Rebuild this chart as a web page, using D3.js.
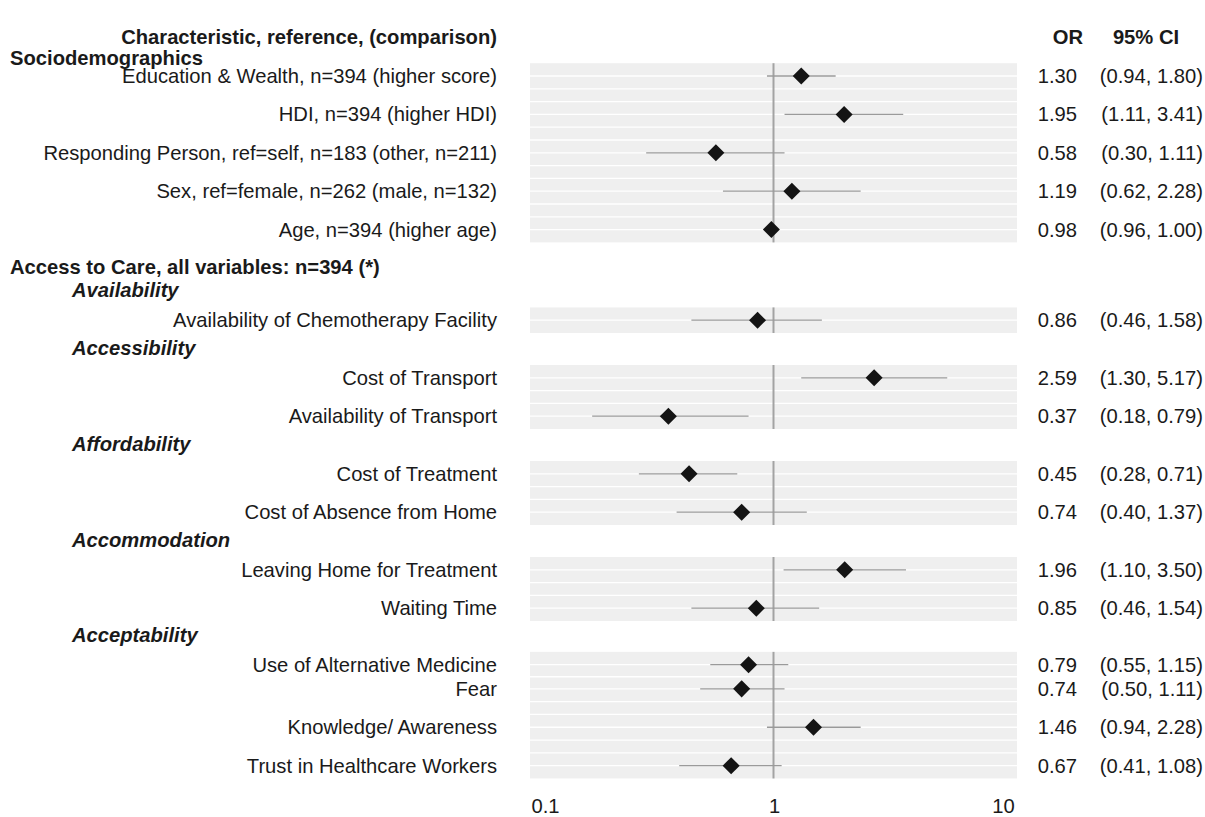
<!DOCTYPE html>
<html>
<head>
<meta charset="utf-8">
<script src="https://cdn.jsdelivr.net/npm/d3@7"></script>
<style>
  body { margin: 0; background: #fff; }
  text { font-family: "Liberation Sans", Arial, Helvetica, sans-serif; fill: #1a1a1a; }
</style>
</head>
<body>
<svg id="chart" width="1205" height="817"></svg>
<script>
// ---- data ----
const labels = [
  'Education & Wealth, n=394 (higher score)',
  'HDI, n=394 (higher HDI)',
  'Responding Person, ref=self, n=183 (other, n=211)',
  'Sex, ref=female, n=262 (male, n=132)',
  'Age, n=394 (higher age)',
  'Availability of Chemotherapy Facility',
  'Cost of Transport',
  'Availability of Transport',
  'Cost of Treatment',
  'Cost of Absence from Home',
  'Leaving Home for Treatment',
  'Waiting Time',
  'Use of Alternative Medicine',
  'Fear',
  'Knowledge/ Awareness',
  'Trust in Healthcare Workers'
];
const orValues = [1.30, 1.95, 0.58, 1.19, 0.98, 0.86, 2.59, 0.37, 0.45, 0.74, 1.96, 0.85, 0.79, 0.74, 1.46, 0.67];
const ciLow    = [0.94, 1.11, 0.30, 0.62, 0.96, 0.46, 1.30, 0.18, 0.28, 0.40, 1.10, 0.46, 0.55, 0.50, 0.94, 0.41];
const ciHigh   = [1.80, 3.41, 1.11, 2.28, 1.00, 1.58, 5.17, 0.79, 0.71, 1.37, 3.50, 1.54, 1.15, 1.11, 2.28, 1.08];
const panelOf  = [0, 0, 0, 0, 0, 1, 2, 2, 3, 3, 4, 4, 5, 5, 5, 5];
const sections = ['Sociodemographics', 'Access to Care, all variables: n=394 (*)'];
const subheads = ['Availability', 'Accessibility', 'Affordability', 'Accommodation', 'Acceptability'];
const xTicks = [0.1, 1, 10];

// ---- layout (row units) ----
const rowPos = [0, 1, 2, 3, 4, 6.36, 7.86, 8.86, 10.36, 11.36, 12.86, 13.86, 15.33, 15.96, 16.96, 17.96];
const sectionPos = [-0.48, 4.97];
const subheadPos = [5.57, 7.07, 9.57, 12.07, 14.56];
const headerPos = -1.03;
const axisPos = 19.0;

const svg = d3.select('#chart');
const fs = 20.2;

const x = d3.scaleLog().domain([0.1, 10]).range([530, 1017]);
const y = d3.scaleLinear().domain([0, 1]).range([76, 114.4]);

const rows = labels.map((l, i) => ({
  label: l, or: orValues[i], lo: ciLow[i], hi: ciHigh[i], panel: panelOf[i], pos: rowPos[i]
}));

// panels
const panels = d3.groups(rows, d => d.panel).map(([p, rs]) => {
  const ps = rs.map(r => r.pos);
  return { p, ps, top: d3.min(ps) - 1 / 3, bottom: d3.max(ps) + 1 / 3 };
});

const gPanel = svg.append('g');
panels.forEach(pn => {
  gPanel.append('rect')
    .attr('x', x(0.1)).attr('width', x(10) - x(0.1))
    .attr('y', y(pn.top)).attr('height', y(pn.bottom) - y(pn.top))
    .attr('fill', '#efefef');
  // white gridlines every third of a row
  const grid = [];
  for (let k = 0; k < pn.ps.length; k++) {
    grid.push(pn.ps[k]);
    if (k < pn.ps.length - 1) {
      const a = pn.ps[k], b = pn.ps[k + 1];
      const n = Math.max(1, Math.round((b - a) * 3));
      for (let j = 1; j < n; j++) grid.push(a + j * (b - a) / n);
    }
  }
  gPanel.selectAll(null).data(grid).enter().append('line')
    .attr('x1', x(0.1)).attr('x2', x(10))
    .attr('y1', d => y(d)).attr('y2', d => y(d))
    .attr('stroke', '#fff').attr('stroke-width', 1.3);
  gPanel.append('line')
    .attr('x1', x(1)).attr('x2', x(1))
    .attr('y1', y(pn.top)).attr('y2', y(pn.bottom))
    .attr('stroke', '#a3a3a3').attr('stroke-width', 2);
});

// CI lines
svg.append('g').selectAll('line').data(rows).enter().append('line')
  .attr('x1', d => x(d.lo)).attr('x2', d => x(d.hi))
  .attr('y1', d => y(d.pos)).attr('y2', d => y(d.pos))
  .attr('stroke', '#9a9a9a').attr('stroke-width', 1.3);

// diamonds
svg.append('g').selectAll('path').data(rows).enter().append('path')
  .attr('d', d3.symbol(d3.symbolSquare, 145))
  .attr('transform', d => `translate(${x(d.or)},${y(d.pos)}) rotate(45)`)
  .attr('fill', '#141414');

// left labels
const gText = svg.append('g').style('font-size', fs + 'px');
gText.append('text').attr('x', 497).attr('y', y(headerPos)).attr('dy', '0.35em')
  .attr('text-anchor', 'end').attr('font-weight', 'bold')
  .text('Characteristic, reference, (comparison)');
gText.append('text').attr('x', 1068).attr('y', y(headerPos)).attr('dy', '0.35em')
  .attr('text-anchor', 'middle').attr('font-weight', 'bold').text('OR');
gText.append('text').attr('x', 1146).attr('y', y(headerPos)).attr('dy', '0.35em')
  .attr('text-anchor', 'middle').attr('font-weight', 'bold').text('95% CI');

gText.selectAll('.sec').data(sections).enter().append('text')
  .attr('x', 10).attr('y', (d, i) => y(sectionPos[i])).attr('dy', '0.35em')
  .attr('font-weight', 'bold').text(d => d);

gText.selectAll('.sub').data(subheads).enter().append('text')
  .attr('x', 72).attr('y', (d, i) => y(subheadPos[i])).attr('dy', '0.35em')
  .attr('font-weight', 'bold').attr('font-style', 'italic').text(d => d);

gText.selectAll('.lab').data(rows).enter().append('text')
  .attr('x', 497).attr('y', d => y(d.pos)).attr('dy', '0.35em')
  .attr('text-anchor', 'end').text(d => d.label);

gText.selectAll('.or').data(rows).enter().append('text')
  .attr('x', 1077).attr('y', d => y(d.pos)).attr('dy', '0.35em')
  .attr('text-anchor', 'end').text(d => d.or.toFixed(2));

gText.selectAll('.ci').data(rows).enter().append('text')
  .attr('x', 1203).attr('y', d => y(d.pos)).attr('dy', '0.35em')
  .attr('text-anchor', 'end').text(d => `(${d.lo.toFixed(2)}, ${d.hi.toFixed(2)})`);

// bottom axis (labels only, slightly inset scale)
const xAxisScale = x.copy().range([x.range()[0] + 15, x.range()[1] - 14]);
const ax = svg.append('g')
  .attr('transform', `translate(0,${y(axisPos) - 7})`)
  .call(d3.axisBottom(xAxisScale).tickValues(xTicks).tickSize(0).tickPadding(0).tickFormat(d3.format('')));
ax.select('.domain').remove();
ax.selectAll('text').style('font-size', fs + 'px')
  .style('font-family', '"Liberation Sans", Arial, sans-serif').attr('fill', '#333');
</script>
</body>
</html>
